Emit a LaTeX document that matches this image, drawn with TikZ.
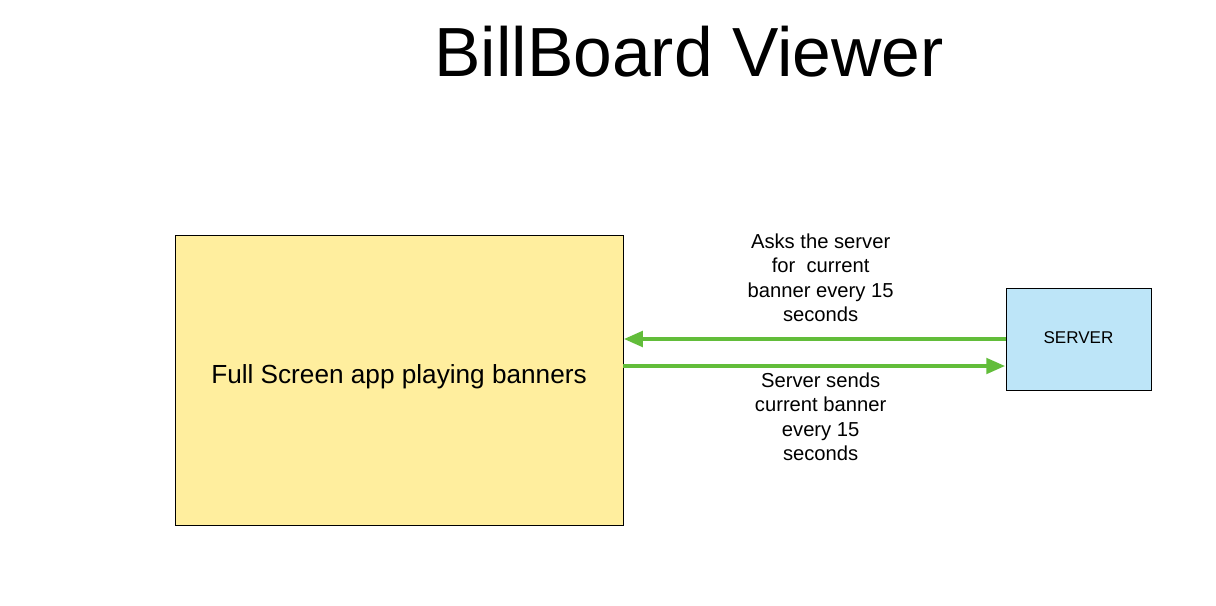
\documentclass[tikz,border=0pt]{standalone}
\usepackage{fontspec}
\setmainfont{Liberation Sans}
\usepackage{tikz}
\usetikzlibrary{arrows.meta,positioning,calc}
\usepackage{xcolor}
\definecolor{boxyellow}{HTML}{FFEE9E}
\definecolor{boxblue}{HTML}{BDE5F8}
\definecolor{flowgreen}{HTML}{62BD3A}

\begin{document}
\begin{tikzpicture}[x=0.02cm, y=-0.02cm,
        block/.style={draw, line width=0.5pt, align=center},
        flow/.style={-{Triangle[length=11pt,width=8.5pt]}, line width=2.8pt, draw=flowgreen},
        note/.style={align=center, font=\fontsize{11.5}{13.9}\selectfont}
    ]
    \useasboundingbox (0,0) rectangle (1216,605);

    % Titulo
    \node[font=\fontsize{39.6}{46}\selectfont] (title) at (689,52) {BillBoard Viewer};

    % Blocos
    \node[block, fill=boxyellow, minimum width=448*0.02cm, minimum height=290*0.02cm] (app) at (399,380) {};
    \node[font=\fontsize{14.9}{18}\selectfont] (applabel) at (399,377) {Full Screen app playing banners};
    \node[block, fill=boxblue, minimum width=145*0.02cm, minimum height=102*0.02cm,
          font=\fontsize{9.7}{12}\selectfont] (server) at (1078.5,339) {\raisebox{2pt}{SERVER}};

    % Pontos das setas
    \coordinate (sendstart) at ($(app.east)+(0,-14)$);
    \coordinate (sendend) at (sendstart -| server.west);

    % Setas
    \draw[flow] (server.west) -- (server.west -| app.east)
        node[midway, above=5pt, xshift=3.5pt, note] {Asks the server\\for\ \ current\\banner every 15\\seconds};
    \draw[flow] (sendstart) -- (sendend)
        node[midway, below=-1pt, xshift=3.5pt, note] {Server sends\\current banner\\every 15\\seconds};

\end{tikzpicture}
\end{document}
